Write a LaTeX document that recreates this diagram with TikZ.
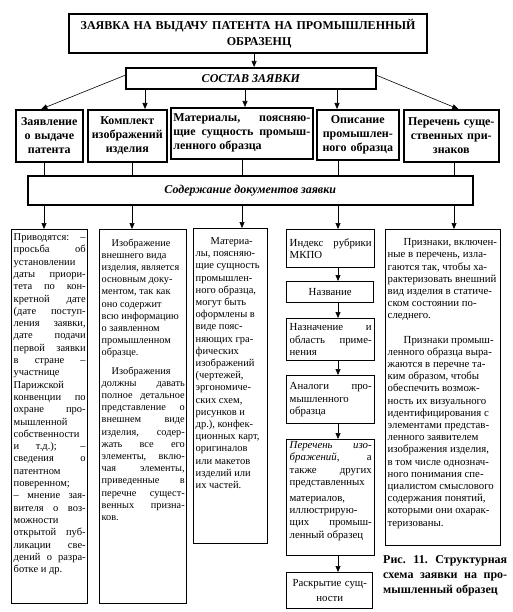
\documentclass[tikz,border=0pt]{standalone}
\usepackage{fontspec}
\setmainfont{Liberation Serif}
\usetikzlibrary{arrows.meta}
\hfuzz=4pt
\tikzset{
every picture/.style={x=1pt, y=-1pt,
                      >={Stealth[length=6pt,width=5pt,inset=0pt]}},
%%%%%%%%%%  Box styles
headbox/.style={draw, line width=1.6pt, anchor=north west,
                inner xsep=2pt, inner ysep=0pt,
                font=\bfseries\fontsize{12}{14}\selectfont},
textbox/.style={draw, line width=1.4pt, anchor=north west,
                inner xsep=2pt, inner ysep=0pt,
                font=\fontsize{10.5}{12.2}\selectfont},
itembox/.style={textbox, inner xsep=3pt, font=\fontsize{10.8}{12.2}\selectfont},
%%%%%%%%%%  Line styles
link/.style={line width=0.6pt}
}
\newcommand{\boxtext}[3]{\parbox[c][#2pt][t]{#1pt}{#3}}

\begin{document}
\begin{tikzpicture}
\useasboundingbox (0,0) rectangle (513,612);
%%%% top
\node[headbox, line width=2.2pt, minimum width=358pt, minimum height=39pt,
      text width=340pt, align=center,
      font=\bfseries\fontsize{12}{16}\selectfont] (title) at (68,13)
      {ЗАЯВКА НА ВЫДАЧУ ПАТЕНТА НА ПРОМЫШЛЕННЫЙ\\ \hspace*{22pt}ОБРАЗЕНЦ};
\node[headbox, minimum width=250pt, minimum height=21pt,
      font=\bfseries\itshape\fontsize{12}{14}\selectfont] (sostav) at (125,67)
      {СОСТАВ ЗАЯВКИ};
%%%% documents
\node[headbox, minimum width=67pt, minimum height=52pt, text width=63pt,
      align=center] (zayav) at (15,109) {Заявление\\ о выдаче\\ патента};
\node[headbox, minimum width=79pt, minimum height=52pt, text width=75pt,
      align=center] (komplekt) at (87,109) {Комплект\\ изображений\\ изделия};
\node[headbox, minimum width=142pt, minimum height=51pt, text width=137pt,
      align=justify] (mater) at (170,107)
      {Материалы, поясняю-\linebreak щие сущность промыш-\linebreak ленного образца};
\node[headbox, minimum width=82pt, minimum height=50pt, text width=78pt,
      align=center] (opis) at (316,109) {Описание\\ промышлен-\\ ного образца};
\node[headbox, minimum width=95pt, minimum height=52pt, text width=91pt,
      align=center] (perech) at (403,109) {Перечень суще-\\ ственных при-\\ знаков};
\node[headbox, minimum width=445pt, minimum height=29pt,
      font=\bfseries\itshape\fontsize{12}{14}\selectfont] (soderzh) at (27,175)
      {Содержание документов заявки};
%%%% contents
\node[textbox, font=\fontsize{10.5}{12.3}\selectfont] (prosba) at (11,229)
{\boxtext{72}{374}{\vspace*{4pt}%
Приводятся: –\linebreak просьба об\linebreak установлении\linebreak
даты приори-\linebreak тета по кон-\linebreak кретной дате\linebreak
(дате поступ-\linebreak ления заявки,\linebreak дате подачи\linebreak
первой заявки\linebreak в стране –\linebreak участнице\linebreak
Парижской\linebreak конвенции по\linebreak охране про-\linebreak
мышленной\linebreak собственности\linebreak и т.д.); –\linebreak
сведения о\linebreak патентном\linebreak поверенном;\linebreak
– мнение зая-\linebreak вителя о воз-\linebreak можности\linebreak
открытой пуб-\linebreak ликации све-\linebreak дений о разра-\linebreak
ботке и др.}};
\node[textbox, font=\fontsize{10.3}{12.2}\selectfont] (izobr) at (99,229)
{\boxtext{83}{374}{\vspace*{9pt}%
\hspace*{10pt}Изображение\newline внешнего вида\newline
изделия, является\newline основным доку-\newline ментом, так как\newline
оно содержит\newline всю информацию\newline о заявленном\newline
промышленном\newline образце.\par\vspace{6pt}
\hspace*{10pt}Изображения\linebreak должны давать\linebreak
полное детальное\linebreak представление о\linebreak внешнем виде\linebreak
изделия, содер-\linebreak жать все его\linebreak элементы, вклю-\linebreak
чая элементы,\linebreak приведенные в\linebreak перечне сущест-\linebreak
венных призна-\linebreak ков.}};
\node[textbox] (poyasn) at (193,228) {\boxtext{70}{315}{\vspace*{9pt}%
\hspace*{15pt}Материа-\newline лы, поясняю-\newline щие сущность\newline
промышлен-\newline ного образца,\newline могут быть\newline
оформлены в\newline виде пояс-\newline няющих гра-\newline фических\newline
изображений\newline (чертежей,\newline эргономиче-\newline ских схем,\newline
рисунков и\newline др.), конфек-\newline ционных карт,\newline
оригиналов\newline или макетов\newline изделий или\newline их частей.}};
%%%% description items
\node[itembox, minimum width=88pt, minimum height=38pt, text width=82pt,
      align=justify] (index) at (286,229) {Индекс рубрики\linebreak МКПО};
\node[itembox, minimum width=87pt, minimum height=21pt, text width=81pt,
      align=center] (nazv) at (286,281) {Название};
\node[itembox, minimum width=88pt, minimum height=42pt, text width=82pt,
      align=justify] (naznach) at (286,318)
      {Назначение и\linebreak область приме-\linebreak нения};
\node[itembox, minimum width=88pt, minimum height=48pt, text width=82pt,
      align=justify] (analog) at (286,375)
      {Аналоги про-\linebreak мышленного\linebreak образца};
\node[itembox] (spisok) at (286,439) {\boxtext{82}{116}{\vspace*{2pt}%
\textit{Перечень изо-}\linebreak \textit{бражений}, а\linebreak
также других\linebreak представленных\par\vspace{4pt}
материалов,\linebreak иллюстрирую-\linebreak щих промыш-\linebreak
ленный образец}};
\node[itembox, minimum width=86pt, minimum height=36pt, text width=80pt,
      align=center, font=\fontsize{10.8}{15}\selectfont] (raskr) at (286,572)
      {Раскрытие сущ-\\ ности};
%%%% features
\node[textbox, font=\fontsize{10.8}{12.2}\selectfont] (priznaki) at (385,229)
{\boxtext{111}{316}{\vspace*{9pt}%
\hspace*{16pt}Признаки, включен-\newline ные в перечень, изла-\newline
гаются так, чтобы ха-\newline рактеризовать внешний\newline
вид изделия в статиче-\newline ском состоянии по-\newline
следнего.\par\vspace{12pt}
\hspace*{16pt}Признаки промыш-\newline ленного образца выра-\newline
жаются в перечне та-\newline ким образом, чтобы\newline
обеспечить возмож-\newline ность их визуального\newline
идентифицирования с\newline элементами представ-\newline
ленного заявителем\newline изображения изделия,\newline
в том числе однознач-\newline ного понимания спе-\newline
циалистом смыслового\newline содержания понятий,\newline
которыми они охарак-\newline теризованы.}};
\node[anchor=north west, inner sep=0pt, text width=124pt, align=justify,
      font=\bfseries\fontsize{12}{15}\selectfont] (caption) at (383,555)
      {Рис. 11. Структурная\linebreak схема заявки на про-\linebreak мышленный образец};
%%%% connectors
\coordinate (s2) at (145,0);
\coordinate (s3) at (245,0);
\coordinate (s4) at (337,0);
\coordinate (c1) at (44,0);
\coordinate (c2) at (132,0);
\coordinate (c3) at (242,0);
\coordinate (c4) at (338,0);
\coordinate (c5) at (454,0);
\draw[link,->] ([xshift=6pt]title.south) -- ([xshift=6pt]title.south |- sostav.north);
\draw[link,->] ([yshift=3pt]sostav.west) -- ([xshift=-8pt]zayav.north);
\draw[link,->] (sostav.south -| s2) -- (komplekt.north -| s2);
\draw[link,->] (sostav.south -| s3) -- (mater.north -| s3);
\draw[link,->] (sostav.south -| s4) -- (opis.north -| s4);
\draw[link,->] ([yshift=3pt]sostav.east) -- ([xshift=7pt]perech.north);
\draw[link] (zayav.south -| c1) -- (soderzh.north -| c1);
\draw[link] (komplekt.south -| c2) -- (soderzh.north -| c2);
\draw[link] (mater.south -| c3) -- (soderzh.north -| c3);
\draw[link] (opis.south -| c4) -- (soderzh.north -| c4);
\draw[link] (perech.south -| c5) -- (soderzh.north -| c5);
\draw[link,->] (soderzh.south -| c1) -- (prosba.north -| c1);
\draw[link,->] (soderzh.south -| c2) -- (izobr.north -| c2);
\draw[link,->] (soderzh.south -| c3) -- (poyasn.north -| c3);
\draw[link,->] (soderzh.south -| c4) -- (index.north -| c4);
\draw[link,->] (soderzh.south -| c5) -- (priznaki.north -| c5);
\draw[link,->] (index.south -| c4) -- (nazv.north -| c4);
\draw[link,->] (nazv.south -| c4) -- (naznach.north -| c4);
\draw[link,->] (naznach.south -| c4) -- (analog.north -| c4);
\draw[link,->] (analog.south -| c4) -- (spisok.north -| c4);
\draw[link,->] (spisok.south -| c4) -- (raskr.north -| c4);
\end{tikzpicture}
\end{document}
